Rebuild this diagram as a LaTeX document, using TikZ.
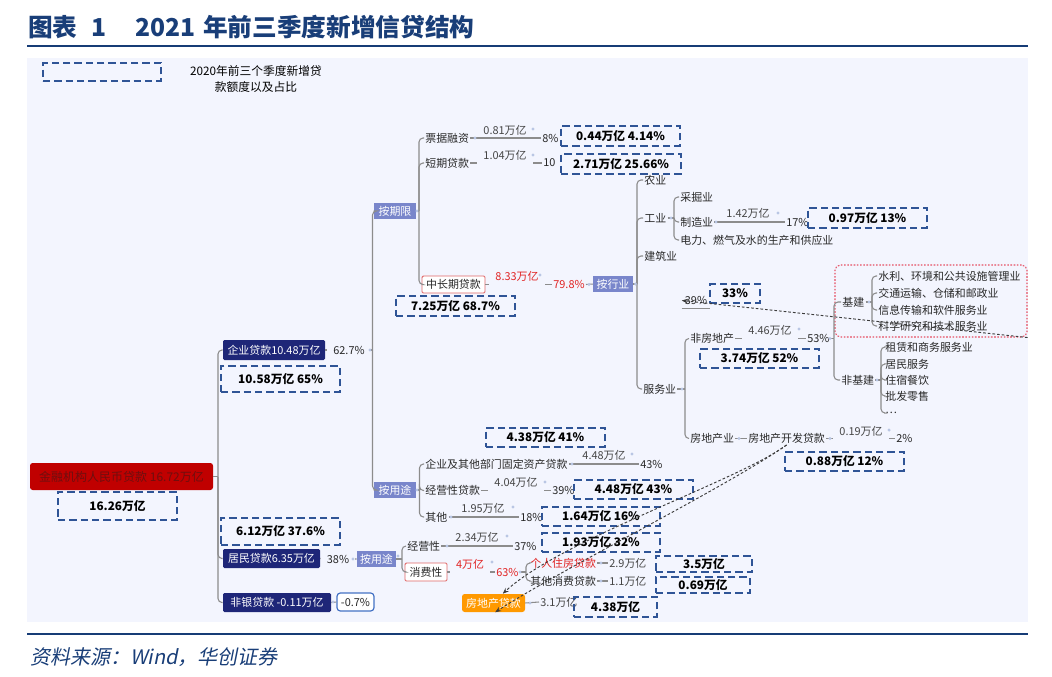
\documentclass[tikz,border=0pt]{standalone}
\usepackage{fontspec}
\setmainfont{Noto Sans CJK SC}
\newfontfamily\slfont{Noto Sans CJK SC}[FakeSlant=0.2]
\usetikzlibrary{arrows.meta}
\definecolor{bgc}{RGB}{243,245,254}
\definecolor{titlec}{RGB}{25,62,120}
\definecolor{rulec}{RGB}{22,60,118}
\definecolor{dashc}{RGB}{47,84,150}
\definecolor{navyc}{RGB}{30,38,120}
\definecolor{purpc}{RGB}{121,134,203}
\definecolor{rootc}{RGB}{192,0,0}
\definecolor{roottxt}{RGB}{110,15,15}
\definecolor{redbd}{RGB}{224,102,102}
\definecolor{redtxt}{RGB}{225,35,35}
\definecolor{reddot}{RGB}{230,80,100}
\definecolor{orangec}{RGB}{255,153,0}
\definecolor{bluebd}{RGB}{68,114,196}
\definecolor{linec}{RGB}{140,140,140}
\definecolor{dotc}{RGB}{185,198,228}
\definecolor{txtc}{RGB}{40,40,40}
\definecolor{numtxt}{RGB}{70,70,70}
\definecolor{relc}{RGB}{60,60,60}
\newcommand\lblfont{\fontsize{8.2}{9.5}\selectfont}
\newcommand\bx[7]{\node[#1, minimum width={(#4-#2)*0.75pt}, minimum height={(#5-#3)*0.75pt}] (#6) at ({(#2+#4)/2},{(#3+#5)/2}) {#7};}
\tikzset{
  lbl/.style={font=\lblfont, text=txtc, inner sep=0.8pt},
  lblc/.style={lbl, fill=bgc, inner xsep=4.5pt, inner ysep=3.2pt},
  numc/.style={text=numtxt},
  redt/.style={text=redtxt},
  dbox/.style={draw=dashc, line width=1.4pt, dash pattern=on 5.5pt off 3pt, font=\bfseries\fontsize{8.8}{10}\selectfont, inner sep=0pt, text=black},
  navybox/.style={fill=navyc, text=white, font=\lblfont, inner sep=0pt, rounded corners=1pt},
  pbox/.style={fill=purpc, text=white, font=\lblfont, inner sep=0pt},
  rbox/.style={draw=redbd, fill=white, line width=0.7pt, font=\lblfont, text=txtc, inner sep=0pt, rounded corners=1pt},
  rootbox/.style={fill=rootc, text=roottxt, font=\fontsize{9}{10}\selectfont, inner sep=0pt, rounded corners=2pt},
  fybox/.style={draw=bluebd, fill=white, line width=0.9pt, rounded corners=2.5pt, font=\lblfont, text=txtc, inner sep=0pt},
  obox/.style={fill=orangec, text=white, font=\lblfont, inner sep=0pt, rounded corners=2pt},
  redbox/.style={draw=reddot, line width=0.8pt, dash pattern=on 1.2pt off 1.2pt, rounded corners=4pt, inner sep=0pt},
  conn/.style={draw=linec, line width=0.8pt, rounded corners=3pt},
  rel/.style={draw=relc, line width=0.7pt, dash pattern=on 2pt off 1.5pt, -{Stealth[length=4.5pt,width=3.5pt]}},
}
\begin{document}
\begin{tikzpicture}[x=0.75pt,y=-0.75pt]
\useasboundingbox (0,0) rectangle (1052,677);
\fill[white] (0,0) rectangle (1052,677);
\fill[bgc] (27,58) rectangle (1028,622);
\draw[rulec,line width=2pt] (27,46) -- (1028,46);
\draw[rulec,line width=2pt] (27,634) -- (1028,634);
\node[anchor=west, inner sep=0pt, text=titlec, font=\bfseries\fontsize{18.5}{22}\selectfont] (title) at (28,27) {图表\hspace{0.55em}1\hspace{1.2em}2021\hspace{0.3em}年前三季度新增信贷结构};
\node[anchor=west, inner sep=0pt, text=titlec, font=\slfont\fontsize{15}{17}\selectfont] (src) at (30,657) {资料来源：Wind，华创证券};

% legend
\bx{dbox}{43}{63}{161}{81}{leg}{}
\node[font=\fontsize{8.8}{12.5}\selectfont, align=center, text=black] (legt) at (256,79) {2020年前三个季度新增贷\\款额度以及占比};

% root and first level
\bx{rootbox}{30}{463}{213}{490}{root}{金融机构人民币贷款\ 16.72万亿}
\bx{dbox}{58}{492}{177}{520}{d0}{16.26万亿}
\bx{navybox}{223}{340}{325}{360}{qy}{企业贷款10.48万亿}
\bx{dbox}{221}{366}{340}{392}{d1}{10.58万亿 65\%}
\bx{dbox}{221}{518}{340}{545}{d2}{6.12万亿 37.6\%}
\bx{navybox}{223}{549}{320}{568}{jm}{居民贷款6.35万亿}
\bx{navybox}{223}{593}{331}{612}{fy}{非银贷款 -0.11万亿}
\bx{fybox}{337}{593}{374}{611}{fyb}{-0.7\%}
\bx{pbox}{374}{203}{416}{219}{aq}{按期限}
\bx{pbox}{374}{482}{416}{498}{ay}{按用途}
\bx{pbox}{357}{551}{396}{567}{ay2}{按用途}

% by term
\node[lbl, anchor=west] (p1) at (424,138) {票据融资};
\node[lbl, anchor=west] (p2) at (424,163) {短期贷款};
\node[lbl, numc] (n1) at (505,130) {0.81万亿};
\node[lbl, anchor=west] (pc1) at (541,138) {8\%};
\node[lbl, anchor=west] (pc2) at (542,163) {10};
\bx{rbox}{422}{276}{485}{293}{zc}{中长期贷款}
\node[lbl, redt, anchor=west] (pc3) at (552,284.5) {79.8\%};
\bx{pbox}{593}{276}{633}{292}{hy}{按行业}
\bx{dbox}{561}{126}{680}{146}{d3}{0.44万亿 4.14\%}
\bx{dbox}{561}{154}{681}{174}{d4}{2.71万亿 25.66\%}
\bx{dbox}{396}{296}{515}{316}{d5}{7.25万亿 68.7\%}

% by industry
\node[lbl, anchor=west] (ny) at (643,180) {农业};
\node[lbl, anchor=west] (gy) at (643,218) {工业};
\node[lbl, anchor=west] (jz) at (643,256) {建筑业};
\node[lbl, anchor=west] (fw) at (642,389) {服务业};
\node[lbl, anchor=west] (cj) at (679,197) {采掘业};
\node[lbl, anchor=west] (zz) at (679,222) {制造业};
\node[lbl, anchor=west] (dl) at (679,240) {电力、燃气及水的生产和供应业};
\node[lbl, numc] (n4) at (748,213) {1.42万亿};
\node[lbl, anchor=west] (pc4) at (785,222) {17\%};
\bx{dbox}{808}{208}{927}{228}{d6}{0.97万亿 13\%}
\bx{lbl}{682}{293}{710}{308}{r39}{39\%}
\bx{dbox}{710}{284}{760}{303}{d7}{33\%}
\node[lbl, anchor=west] (ffd) at (689,338.5) {非房地产};
\node[lbl, anchor=west] (pc5) at (806,338.5) {53\%};
\bx{dbox}{700}{349}{819}{368}{d8}{3.74万亿 52\%}
\node[lbl, anchor=west] (jj) at (841,302) {基建};
\node[lbl, anchor=west] (jj1) at (877,276) {水利、环境和公共设施管理业};
\node[lbl, anchor=west] (jj2) at (877,293) {交通运输、仓储和邮政业};
\node[lbl, anchor=west] (jj3) at (877,310) {信息传输和软件服务业};
\node[lbl, anchor=west] (jj4) at (877,326) {科学研究和技术服务业};
\bx{redbox}{835}{265}{1027}{337}{jjbox}{}
\node[lbl, anchor=west] (fjj) at (840,380) {非基建};
\node[lbl, anchor=west] (fjj1) at (884,347) {租赁和商务服务业};
\node[lbl, anchor=west] (fjj2) at (884,364) {居民服务};
\node[lbl, anchor=west] (fjj3) at (884,380) {住宿餐饮};
\node[lbl, anchor=west] (fjj4) at (884,396) {批发零售};
\node[lbl, anchor=west] (fjj5) at (884,413) {…};
\node[lbl, anchor=west] (fdc) at (689,438.5) {房地产业};
\node[lbl, anchor=west] (kf) at (747,438.5) {房地产开发贷款};
\node[lbl, anchor=west] (pc6) at (895,438.5) {2\%};
\bx{dbox}{785}{452}{904}{471}{d9}{0.88万亿 12\%}

% enterprise by use
\node[lbl, anchor=west] (u1) at (424,464) {企业及其他部门固定资产贷款};
\node[lbl, numc] (n7) at (604,455) {4.48万亿};
\node[lbl, anchor=west] (pc7) at (639,464) {43\%};
\bx{dbox}{486}{428}{605}{447}{d10}{4.38万亿 41\%}
\node[lbl, anchor=west] (u2) at (424,490.5) {经营性贷款};
\node[lbl, anchor=west] (pc8) at (551,490.5) {39\%};
\bx{dbox}{574}{480}{693}{499}{d11}{4.48万亿 43\%}
\node[lbl, anchor=west] (u3) at (424,517) {其他};
\node[lbl, numc] (n9) at (483,508) {1.95万亿};
\node[lbl, anchor=west] (pc9) at (519,517) {18\%};
\bx{dbox}{542}{507}{660}{526}{d12}{1.64万亿 16\%}

% household by use
\node[lbl, anchor=west] (j1) at (406,546) {经营性};
\node[lbl, numc] (n11) at (477,537) {2.34万亿};
\node[lbl, anchor=west] (pc11) at (513,546) {37\%};
\bx{dbox}{542}{533}{660}{552}{d13}{1.93万亿 32\%}
\bx{rbox}{405}{563}{447}{581}{xf}{消费性}
\node[lbl, redt, anchor=west] (pc12) at (495,572) {63\%};
\node[lbl, redt, anchor=west] (gr) at (529,563) {个人住房贷款};
\node[lbl, anchor=west] (qt) at (529,581) {其他消费贷款};
\node[lbl, numc, anchor=west] (v1) at (608,563) {2.9万亿};
\node[lbl, numc, anchor=west] (v2) at (608,581) {1.1万亿};
\bx{dbox}{656}{556}{752}{572}{d14}{3.5万亿}
\bx{dbox}{656}{577}{750}{593}{d15}{0.69万亿}
\bx{obox}{462}{594}{525}{612}{fdk}{房地产贷款}
\node[lbl, numc, anchor=west] (v3) at (539,602) {3.1万亿};
\bx{dbox}{574}{597}{657}{617}{d16}{4.38万亿}

% connectors
\coordinate (s0) at (218,476.5);
\draw[conn] (root.east) -- (s0);
\foreach \c in {qy,jm,fy} \draw[conn] (s0) |- (\c.west);
\draw[conn] (fy.east) -- (fyb.west);
\coordinate (s1) at (372.5,350);
\draw[conn] (qy.east) -- (s1);
\foreach \c in {aq,ay} \draw[conn] (s1) |- (\c.west);
\coordinate (s2) at (419,211);
\draw[conn] (aq.east) -- (s2);
\foreach \c in {p1,p2,zc} \draw[conn] (s2) |- (\c.west);
\draw[conn] (p1.east) -- (pc1.west);
\draw[conn] (p2.east) -- (pc2.west);
\draw[conn] (zc.east) -- (pc3.west);
\draw[conn] (pc3.east) -- (hy.west);
\coordinate (s3) at (637,284);
\draw[conn] (hy.east) -- (s3);
\foreach \c in {ny,gy,jz,fw} \draw[conn] (s3) |- (\c.west);
\coordinate (s4) at (674,218);
\draw[conn] (gy.east) -- (s4);
\foreach \c in {cj,zz,dl} \draw[conn] (s4) |- (\c.west);
\draw[conn] (zz.east) -- (pc4.west);
\coordinate (s5) at (685,389);
\draw[conn] (fw.east) -- (s5);
\foreach \c in {ffd,fdc} \draw[conn] (s5) |- (\c.west);
\draw[conn] (ffd.east) -- (pc5.west);
\coordinate (s6) at (834,338.5);
\draw[conn] (pc5.east) -- (s6);
\foreach \c in {jj,fjj} \draw[conn] (s6) |- (\c.west);
\coordinate (s7) at (872,302);
\draw[conn] (jj.east) -- (s7);
\foreach \c in {jj1,jj2,jj3,jj4} \draw[conn] (s7) |- (\c.west);
\coordinate (s8) at (881,380);
\draw[conn] (fjj.east) -- (s8);
\foreach \c in {fjj1,fjj2,fjj3,fjj4,fjj5} \draw[conn] (s8) |- (\c.west);
\draw[conn] (fdc.east) -- (kf.west);
\draw[conn] (kf.east) -- (pc6.west);
\draw[conn] (r39.south west) -- (r39.south east);
\coordinate (s9) at (419.5,490);
\draw[conn] (ay.east) -- (s9);
\foreach \c in {u1,u2,u3} \draw[conn] (s9) |- (\c.west);
\draw[conn] (u1.east) -- (pc7.west);
\draw[conn] (u2.east) -- (pc8.west);
\draw[conn] (u3.east) -- (pc9.west);
\draw[conn] (jm.east) -- (ay2.west);
\coordinate (s10) at (402,559);
\draw[conn] (ay2.east) -- (s10);
\foreach \c in {j1,xf} \draw[conn] (s10) |- (\c.west);
\draw[conn] (j1.east) -- (pc11.west);
\draw[conn] (xf.east) -- (pc12.west);
\coordinate (s11) at (526,572);
\draw[conn] (pc12.east) -- (s11);
\foreach \c in {gr,qt} \draw[conn] (s11) |- (\c.west);
\draw[conn] (gr.east) -- (v1.west);
\draw[conn] (qt.east) -- (v2.west);
\draw[conn] (fdk.east) -- (v3.west);

% labels that sit on the connectors
\node[lblc, numc] (n2) at (505,155) {1.04万亿};
\node[lblc, redt] (n3) at (517,276) {8.33万亿};
\node[lblc, numc] (n5) at (770,330) {4.46万亿};
\node[lblc, numc] (n6) at (861,431) {0.19万亿};
\node[lblc, numc] (n8) at (516,482) {4.04万亿};
\node[lblc, redt] (n12) at (470,564) {4万亿};
\node[lblc] (c627) at (349,350) {62.7\%};
\node[lblc] (c38) at (338,559) {38\%};

% handle dots
\foreach \x/\y in {370/350, 417/211, 475/138, 533/129, 533/155, 540/275, 589/284.5, 635.5/284, 671/218, 716/222, 778/213, 682/389, 799/329, 830/338.5, 869/302, 877/380, 739/438.5, 830/438.5, 889/430, 417/490, 572/464, 632/454, 545/482, 451/517, 513/507, 353/559, 398/556, 447/546, 507/536, 492/562, 520/572, 601/563, 601/581, 530/603, 333/602}
  \fill[dotc] (\x,\y) circle (1.3pt);

% relations
\draw[rel] (jjbox.south east) -- (r39.west);
\draw[rel] (kf.south) .. controls (740,480) and (560,540) .. (fdk.45);
\draw[rel] (kf.south) .. controls (730,485) and (560,570) .. (fdk.-80);
\end{tikzpicture}
\end{document}
